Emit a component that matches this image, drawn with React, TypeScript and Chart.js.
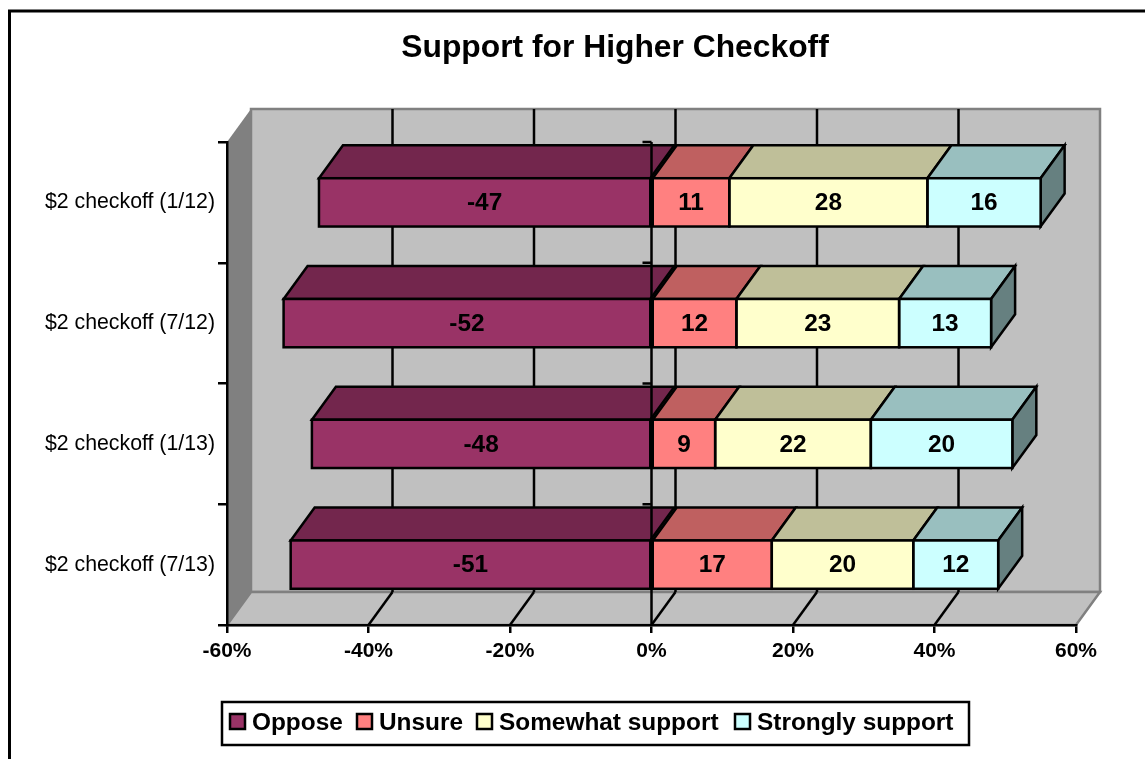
import React, { useEffect, useRef } from "react";
import { Chart, registerables } from "chart.js";

Chart.register(...registerables);

const categories = ["$2 checkoff (1/12)", "$2 checkoff (7/12)", "$2 checkoff (1/13)", "$2 checkoff (7/13)"];
const oppose = [-47, -52, -48, -51];
const unsure = [11, 12, 9, 17];
const somewhatSupport = [28, 23, 22, 20];
const stronglySupport = [16, 13, 20, 12];

const seriesNames = ["Oppose", "Unsure", "Somewhat support", "Strongly support"];
const frontColors = ["#993366", "#FF8080", "#FFFFCC", "#CCFFFF"];
const topColors = ["#73264D", "#BF6060", "#BFBF99", "#99BFBF"];
const sideColors = ["#4D1A33", "#804040", "#808066", "#668080"];

const titleText = "Support for Higher Checkoff";
const FONT = '"Liberation Sans", Arial, sans-serif';

// Oblique offset of the box's depth axis.
const DX = 24;
const DY = 33;
const EDGE = 2.5;

const poly = (ctx: CanvasRenderingContext2D, pts: number[][], fill: string, stroke?: string, lw = EDGE) => {
  ctx.beginPath();
  pts.forEach(([x, y], i) => (i ? ctx.lineTo(x, y) : ctx.moveTo(x, y)));
  ctx.closePath();
  ctx.fillStyle = fill;
  ctx.fill();
  if (stroke) {
    ctx.strokeStyle = stroke;
    ctx.lineWidth = lw;
    ctx.lineJoin = "miter";
    ctx.stroke();
  }
};

const segment = (ctx: CanvasRenderingContext2D, x1: number, y1: number, x2: number, y2: number, color: string, lw = EDGE) => {
  ctx.beginPath();
  ctx.moveTo(x1, y1);
  ctx.lineTo(x2, y2);
  ctx.strokeStyle = color;
  ctx.lineWidth = lw;
  ctx.stroke();
};

// Frame, title, walls, floor and the gridlines that run across them.
const boxPlugin = {
  id: "box3d",
  beforeDraw(chart: any) {
    const { ctx, chartArea: a, scales } = chart;
    ctx.save();
    ctx.fillStyle = "#FFFFFF";
    ctx.fillRect(0, 0, chart.width, chart.height);
    ctx.strokeStyle = "#000000";
    ctx.lineWidth = 3;
    ctx.strokeRect(9.5, 11, chart.width + 40, chart.height + 40);

    ctx.fillStyle = "#000000";
    ctx.font = `bold 31.8px ${FONT}`;
    ctx.textAlign = "center";
    ctx.textBaseline = "middle";
    ctx.fillText(titleText, 615, 48);

    const grey = "#808080";
    poly(ctx, [[a.left, a.top], [a.left + DX, a.top - DY], [a.left + DX, a.bottom - DY], [a.left, a.bottom]], grey);
    poly(ctx, [[a.left + DX, a.top - DY], [a.right + DX, a.top - DY], [a.right + DX, a.bottom - DY], [a.left + DX, a.bottom - DY]], "#C0C0C0", grey);
    poly(ctx, [[a.left, a.bottom], [a.left + DX, a.bottom - DY], [a.right + DX, a.bottom - DY], [a.right, a.bottom]], "#C0C0C0", grey);

    const x = scales.x;
    x.ticks.forEach((t: any) => {
      if (t.value <= x.min || t.value >= x.max) return;
      const px = x.getPixelForValue(t.value);
      segment(ctx, px + DX, a.top - DY, px + DX, a.bottom - DY, "#000000");
      segment(ctx, px + DX, a.bottom - DY, px, a.bottom, "#000000");
    });
    ctx.restore();
  },
  // Top and end faces of every stacked segment, painted behind the front faces.
  beforeDatasetsDraw(chart: any) {
    const { ctx, data } = chart;
    ctx.save();
    data.datasets.forEach((_: any, di: number) => {
      chart.getDatasetMeta(di).data.forEach((bar: any) => {
        const half = bar.height / 2;
        const x0 = Math.min(bar.x, bar.base);
        const x1 = Math.max(bar.x, bar.base);
        const yT = bar.y - half;
        const yB = bar.y + half;
        poly(ctx, [[x0, yT], [x0 + DX, yT - DY], [x1 + DX, yT - DY], [x1, yT]], topColors[di], "#000000");
        if (di === data.datasets.length - 1) {
          poly(ctx, [[x1, yT], [x1 + DX, yT - DY], [x1 + DX, yB - DY], [x1, yB]], sideColors[di], "#000000");
        }
      });
    });
    ctx.restore();
  },
  // Front outlines, zero line with its ticks, value labels and the legend box go on top.
  afterDatasetsDraw(chart: any) {
    const { ctx, data, chartArea: a, scales } = chart;
    ctx.save();

    ctx.strokeStyle = "#000000";
    ctx.lineWidth = EDGE;
    data.datasets.forEach((_: any, di: number) => {
      chart.getDatasetMeta(di).data.forEach((bar: any) => {
        const x0 = Math.min(bar.x, bar.base);
        const w = Math.abs(bar.x - bar.base);
        ctx.strokeRect(x0, bar.y - bar.height / 2, w, bar.height);
      });
    });

    const zero = scales.x.getPixelForValue(0);
    segment(ctx, zero, a.top, zero, a.bottom, "#000000");
    const band = scales.y.getPixelForValue(1) - scales.y.getPixelForValue(0);
    categories.forEach((_, i) => {
      const y = scales.y.getPixelForValue(i) - band / 2;
      segment(ctx, zero - 9, y, zero, y, "#000000");
    });

    ctx.fillStyle = "#000000";
    ctx.font = `bold 24.4px ${FONT}`;
    ctx.textAlign = "center";
    ctx.textBaseline = "middle";
    data.datasets.forEach((ds: any, di: number) => {
      chart.getDatasetMeta(di).data.forEach((bar: any, i: number) => {
        ctx.fillText(String(ds.data[i]), (bar.x + bar.base) / 2, bar.y + 1);
      });
    });

    // Legend
    ctx.fillStyle = "#FFFFFF";
    ctx.fillRect(222, 702, 747, 43);
    ctx.strokeStyle = "#000000";
    ctx.lineWidth = EDGE;
    ctx.strokeRect(222, 702, 747, 43);
    const swatchX = [230, 357, 477, 735];
    seriesNames.forEach((name, i) => {
      ctx.fillStyle = frontColors[i];
      ctx.fillRect(swatchX[i], 714, 15, 15);
      ctx.strokeStyle = "#000000";
      ctx.lineWidth = EDGE;
      ctx.strokeRect(swatchX[i], 714, 15, 15);
      ctx.fillStyle = "#000000";
      ctx.textAlign = "left";
      ctx.fillText(name, swatchX[i] + 22, 723);
    });
    ctx.restore();
  },
};

export default function App() {
  const ref = useRef<HTMLCanvasElement>(null);

  useEffect(() => {
    const series = [oppose, unsure, somewhatSupport, stronglySupport];
    const chart = new Chart(ref.current as HTMLCanvasElement, {
      type: "bar",
      data: {
        labels: categories,
        datasets: series.map((values, i) => ({
          label: seriesNames[i],
          data: values,
          backgroundColor: frontColors[i],
          borderWidth: 0,
          barPercentage: 0.4,
          categoryPercentage: 1,
        })),
      },
      options: {
        indexAxis: "y",
        responsive: false,
        animation: false,
        layout: { padding: { top: 142, right: 69, left: 0, bottom: 0 } },
        plugins: { legend: { display: false }, title: { display: false }, tooltip: { enabled: false } },
        scales: {
          x: {
            type: "linear",
            stacked: true,
            min: -60,
            max: 60,
            afterFit: (s: any) => { s.height = 134; },
            ticks: {
              stepSize: 20,
              callback: (v: any) => `${v}%`,
              color: "#000000",
              font: { family: FONT, size: 21, weight: "bold" },
              padding: 6,
              maxRotation: 0,
              autoSkip: false,
            },
            grid: { drawOnChartArea: false, drawTicks: true, tickLength: 8, color: "#000000", lineWidth: 2.5 },
            border: { display: true, color: "#000000", width: 2.5 },
          },
          y: {
            type: "category",
            stacked: true,
            afterFit: (s: any) => { s.width = 227; },
            ticks: {
              color: "#000000",
              font: { family: FONT, size: 21.3 },
              padding: 3,
              autoSkip: false,
            },
            grid: { drawOnChartArea: false, drawTicks: true, tickLength: 9, color: "#000000", lineWidth: 2.5 },
            border: { display: true, color: "#000000", width: 2.5 },
          },
        },
      },
      plugins: [boxPlugin],
    } as any);
    return () => chart.destroy();
  }, []);

  return (
    <div style={{ position: "fixed", left: 0, top: 0, width: 1145, height: 759, overflow: "hidden", background: "#fff" }}>
      <canvas ref={ref} width={1145} height={759} style={{ display: "block" }} />
    </div>
  );
}
